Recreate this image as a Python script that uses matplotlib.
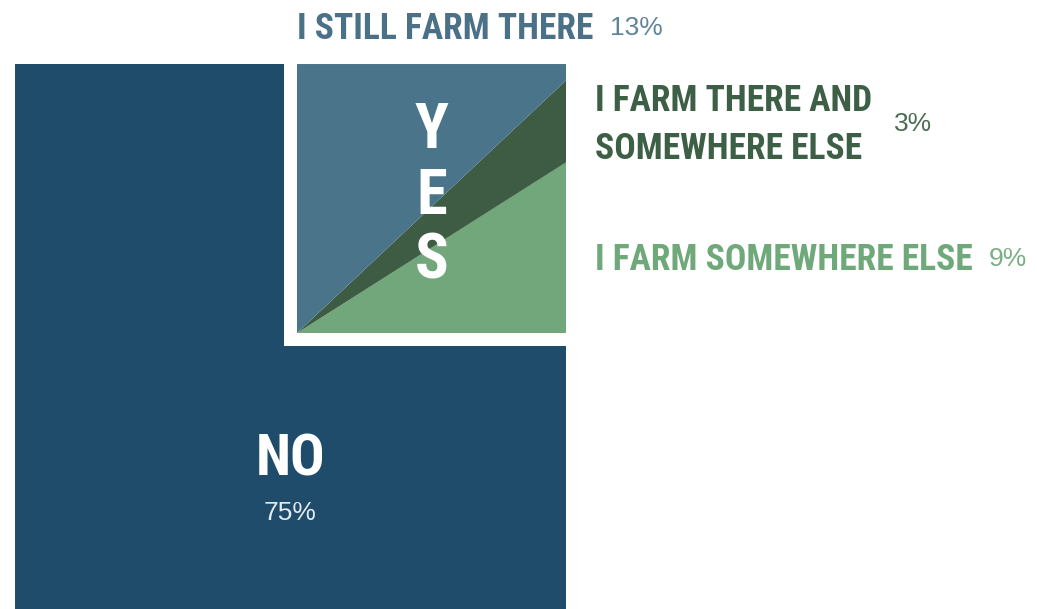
import numpy as np
import matplotlib.pyplot as plt
from matplotlib import font_manager
from matplotlib.patches import Rectangle, Polygon

# survey shares (percent of all respondents)
answers = ["NO", "YES"]
answer_share = [75, 25]

# breakdown of the YES answer, drawn counter-clockwise from the bottom edge
yes_labels = ["I FARM SOMEWHERE ELSE", "I FARM THERE AND\nSOMEWHERE ELSE", "I STILL FARM THERE"]
yes_share = [9, 3, 13]

no_color = "#1f4c6a"
yes_colors = ["#72a77b", "#3e5c44", "#4a7489"]
label_colors = ["#6fa879", "#3d5f45", "#4b7189"]
pct_colors = ["#7aae85", "#4d6b53", "#5e8499"]

# pick a narrow bold face if one is around
have = {f.name for f in font_manager.fontManager.ttflist}
narrow = next((n for n in ["Roboto Condensed", "Liberation Sans Narrow", "Open Sans Condensed",
                           "DejaVu Sans Condensed", "Noto Sans Condensed"] if n in have), "DejaVu Sans")
narrow = [narrow, "DejaVu Sans"]
plain = ["Liberation Sans", "DejaVu Sans"]

fig = plt.figure(figsize=(10.37, 6.09), dpi=100)
ax = fig.add_axes([0, 0, 1, 1])
ax.set_xlim(-0.0272, 1.8548)
ax.set_ylim(0.0109, 1.1162)
ax.set_aspect("equal")
ax.axis("off")
renderer = fig.canvas.get_renderer()


def fit_text(x, y, s, width_px, **kw):
    # scale the font so the text spans width_px pixels
    t = ax.text(x, y, s, fontsize=20, **kw)
    w = t.get_window_extent(renderer).width
    t.set_fontsize(20 * width_px / w)
    return t


# whole square = 100%, the YES square gets its area share
yes_side = np.sqrt(answer_share[1] / sum(answer_share))
x0 = 1 - yes_side
gap = 0.0236

ax.add_patch(Rectangle((0, 0), 1, 1, color=no_color, lw=0))
ax.add_patch(Rectangle((x0 - gap / 2, x0 - gap / 2), yes_side + gap / 2, yes_side + gap / 2,
                       color="white", lw=0))

# inner YES square, split as a fan from its lower-left corner
ix = x0 + gap / 2
inner = yes_side - gap / 2


def edge_point(deg):
    a = np.radians(deg)
    r = inner / max(np.cos(a), np.sin(a))
    return (ix + r * np.cos(a), ix + r * np.sin(a))


angles = np.concatenate([[0], np.cumsum(yes_share)]) / sum(yes_share) * 90
for i, c in enumerate(yes_colors):
    a1, a2 = angles[i], angles[i + 1]
    pts = [(ix, ix), edge_point(a1)]
    if a1 < 45 < a2:
        pts.append((ix + inner, ix + inner))
    pts.append(edge_point(a2))
    ax.add_patch(Polygon(pts, closed=True, color=c, lw=0))

# labels inside the squares
fit_text(0.5, 0.281, answers[0], 70, color="white", fontweight="bold",
         family=narrow, ha="center", va="center")
ax.text(0.5, 0.185, f"{answer_share[0]}%", color="#e4ebef", fontsize=19,
        family=plain, ha="center", va="center")
for ch, yy in zip(answers[1], [0.8875, 0.768, 0.65]):
    ax.text(ix + inner / 2, yy - 0.009, ch, color="white", fontsize=45, fontweight="bold",
            family=narrow, ha="center", va="center")

# category labels to the right / above
lab_pos = [(1.052, 0.6443), (1.052, 0.889), (ix, 1.0635)]
pct_gap = [0.03, 0.04, 0.03]
head = fit_text(lab_pos[0][0], lab_pos[0][1], yes_labels[0], 378, color=label_colors[0],
                fontweight="bold", family=narrow, ha="left", va="center")
fs = head.get_fontsize()
for i in range(3):
    lx, ly = lab_pos[i]
    if i == 0:
        t = head
    else:
        t = ax.text(lx, ly, yes_labels[i], color=label_colors[i], fontsize=fs,
                    fontweight="bold", family=narrow, ha="left", va="center",
                    linespacing=1.42)
    bb = t.get_window_extent(renderer).transformed(ax.transData.inverted())
    ax.text(bb.x1 + pct_gap[i], ly + 0.002, f"{yes_share[i]}%", color=pct_colors[i],
            fontsize=19, family=plain, ha="left", va="center")

fig.savefig("out.png", dpi=100)
